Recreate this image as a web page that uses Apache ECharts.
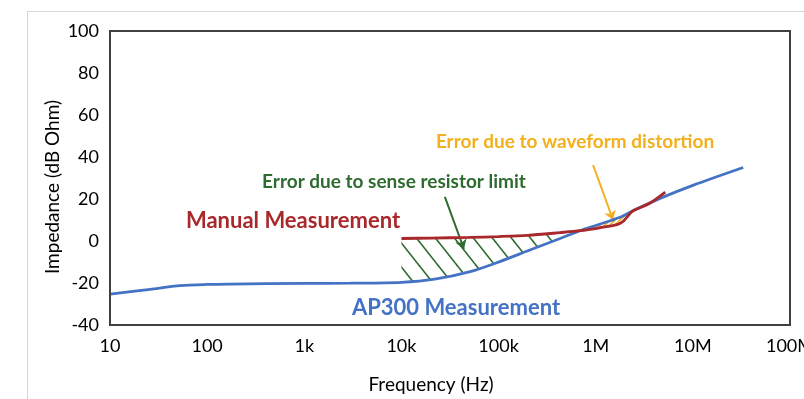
<!DOCTYPE html>
<html>
<head>
<meta charset="utf-8">
<script src="https://cdn.jsdelivr.net/npm/echarts@6/dist/echarts.min.js"></script>
<style>
  html, body { margin: 0; padding: 0; background: #fff; }
  #chart { width: 804px; height: 399px; }
</style>
</head>
<body>
<div id="chart"></div>
<script>
// AP300 (blue) measurement
const apFreq = [10, 26, 53, 100, 170, 1000, 3000, 10000, 22000, 51000, 103000, 210000, 430000, 690000, 1000000, 1780000, 2400000, 4600000, 10000000, 33000000];
const apImp = [-25.3, -23, -21.3, -20.7, -20.5, -20.2, -20.1, -19.7, -18.2, -14.6, -9.8, -4.3, 1.2, 4.9, 7.4, 11.3, 14.3, 20.3, 26.5, 35];

// manual measurement (red)
const manFreq = [10000, 20000, 50000, 100000, 200000, 430000, 690000, 1100000, 1660000, 1900000, 2100000, 2400000, 3600000, 5200000];
const manImp = [1.2, 1.4, 1.7, 2.1, 2.7, 4.0, 4.9, 6.3, 7.8, 9.2, 11.4, 14.3, 18.0, 23.3];

const xTickLabels = ['10', '100', '1k', '10k', '100k', '1M', '10M', '100M'];

// arrows: [from, to] in data coords
const senseArrow = [[28000, 21], [44000, -3.8]];
const distortArrow = [[940000, 36.2], [1510000, 10]];

const BLUE = '#4472C4', RED = '#A9282B', GREEN = '#2E6B30', ORANGE = '#F2B01E';
const FONT = 'Lato';

const pairs = (xs, ys) => xs.map((x, i) => [x, ys[i]]);
const apData = pairs(apFreq, apImp);
const manData = pairs(manFreq, manImp);
const inRange = (d, lo, hi) => d.filter(p => p[0] >= lo && p[0] <= hi);

function hatch(color, w, h, lw, back) {
  const c = document.createElement('canvas');
  c.width = w; c.height = h;
  const ctx = c.getContext('2d');
  ctx.strokeStyle = color;
  ctx.lineWidth = lw;
  for (const dx of [-w, 0, w]) {
    ctx.beginPath();
    if (back) { ctx.moveTo(dx - w / 2, -h / 2); ctx.lineTo(dx + w * 1.5, h * 1.5); }
    else { ctx.moveTo(dx - w / 2, h * 1.5); ctx.lineTo(dx + w * 1.5, -h / 2); }
    ctx.stroke();
  }
  return { image: c, repeat: 'repeat' };
}

const chart = echarts.init(document.getElementById('chart'), null, { renderer: 'canvas' });

// fill-only helper series used for the hatched error regions
const areaOnly = (data, color, z) => ({
  type: 'line', data, smooth: 0.3, symbol: 'none', silent: true, z,
  lineStyle: { width: 0, opacity: 0 },
  areaStyle: { color, opacity: 1, origin: 'start' }
});

chart.setOption({
  animation: false,
  grid: {
    left: 110, top: 31, right: 14, bottom: 74,
    outerBoundsMode: 'none', containLabel: false,
    show: true, borderColor: '#404040', borderWidth: 2,
    backgroundColor: 'transparent', z: 10
  },
  xAxis: {
    type: 'log', logBase: 10, min: 10, max: 100000000, splitNumber: 7,
    axisLine: { show: false }, axisTick: { show: false }, splitLine: { show: false },
    axisLabel: {
      fontFamily: FONT, fontSize: 18, color: '#000', margin: 12,
      formatter: v => xTickLabels[Math.round(Math.log10(v)) - 1]
    }
  },
  yAxis: {
    type: 'value', min: -40, max: 100, interval: 20,
    axisLine: { show: false }, axisTick: { show: false }, splitLine: { show: false },
    axisLabel: { fontFamily: FONT, fontSize: 18, color: '#000', margin: 11 }
  },
  graphic: [
    { type: 'rect', z: 0, shape: { x: 27.5, y: 11.5, width: 900, height: 500 },
      style: { fill: 'none', stroke: '#d6d6d6', lineWidth: 1 } },
    { type: 'text', z: 20, x: 431, y: 385, style: { text: 'Frequency (Hz)', fill: '#000',
      font: '19px ' + FONT, textAlign: 'center', textVerticalAlign: 'middle' } },
    { type: 'text', z: 20, x: 53, y: 187, rotation: Math.PI / 2, style: { text: 'Impedance (dB Ohm)', fill: '#000',
      font: '19px ' + FONT, textAlign: 'center', textVerticalAlign: 'middle' } },
    { type: 'text', z: 20, x: 575, y: 142, style: { text: 'Error due to waveform distortion', fill: ORANGE,
      font: 'bold 19px ' + FONT, textAlign: 'center', textVerticalAlign: 'middle' } },
    { type: 'text', z: 20, x: 394, y: 182, style: { text: 'Error due to sense resistor limit', fill: GREEN,
      font: 'bold 19px ' + FONT, textAlign: 'center', textVerticalAlign: 'middle' } },
    { type: 'text', z: 20, x: 293, y: 221, style: { text: 'Manual Measurement', fill: RED,
      font: 'bold 22px ' + FONT, textAlign: 'center', textVerticalAlign: 'middle' } },
    { type: 'text', z: 20, x: 456, y: 308, style: { text: 'AP300 Measurement', fill: BLUE,
      font: 'bold 22px ' + FONT, textAlign: 'center', textVerticalAlign: 'middle' } }
  ],
  series: [
    areaOnly(inRange(manData, 0, 690000), hatch(GREEN, 19, 24, 1.6, true), 1),
    areaOnly(apData, '#fff', 2),
    areaOnly(inRange(apData, 690000, 2400000), hatch(ORANGE, 5, 5, 1.6, false), 3),
    areaOnly(inRange(manData, 430000, 5200000), '#fff', 4),
    {
      name: 'AP300 Measurement', type: 'line', data: apData, smooth: 0.3, symbol: 'none', z: 5,
      lineStyle: { color: BLUE, width: 2.8 }
    },
    {
      name: 'Manual Measurement', type: 'line', data: manData, smooth: 0.3, symbol: 'none', z: 6,
      lineStyle: { color: RED, width: 2.8 },
      markLine: {
        silent: true, symbol: ['none', 'arrow'], symbolSize: 9,
        label: { show: false },
        data: [
          [{ coord: senseArrow[0], lineStyle: { color: GREEN, width: 2, type: 'solid' } }, { coord: senseArrow[1] }],
          [{ coord: distortArrow[0], lineStyle: { color: ORANGE, width: 2, type: 'solid' } }, { coord: distortArrow[1] }]
        ]
      }
    }
  ]
});
</script>
</body>
</html>
